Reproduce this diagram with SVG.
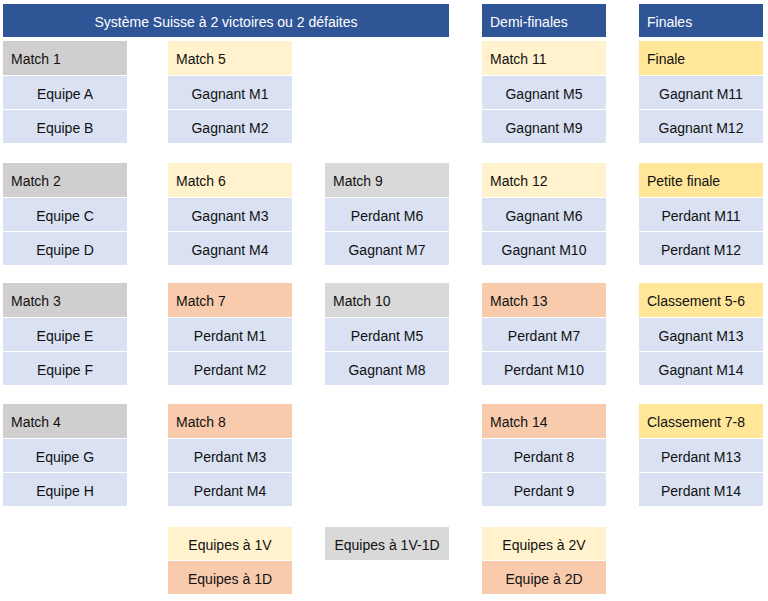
<svg xmlns="http://www.w3.org/2000/svg" width="768" height="601" viewBox="0 0 768 601">
<style>
text{font-family:"Liberation Sans",Arial,sans-serif;font-size:14px;fill:#111}
.t{fill:#2F5597}
.tt{fill:#fff}
.g1{fill:#D0CECE}
.g2{fill:#D9D9D9}
.y{fill:#FFF2CC}
.o{fill:#F8CBAD}
.gd{fill:#FFE699}
.c{fill:#D9E1F2}
.m{text-anchor:middle}
</style>
<rect width="768" height="601" fill="#fff"/>
<g id="title-main"><rect class="t" x="3" y="4" width="446" height="33"/><text class="tt m" x="226" y="26.5">Système Suisse à 2 victoires ou 2 défaites</text></g>
<g id="title-demi"><rect class="t" x="482" y="4" width="124" height="33"/><text class="tt" x="490" y="26.5">Demi-finales</text></g>
<g id="title-finales"><rect class="t" x="639" y="4" width="124" height="33"/><text class="tt" x="647" y="26.5">Finales</text></g>

<g id="match1"><rect class="g1" x="3" y="41" width="124" height="34"/><text x="11" y="64">Match 1</text>
<rect class="c" x="3" y="76" width="124" height="33"/><text class="m" x="65" y="99">Equipe A</text>
<rect class="c" x="3" y="110" width="124" height="33"/><text class="m" x="65" y="133">Equipe B</text></g>
<g id="match2"><rect class="g1" x="3" y="163" width="124" height="34"/><text x="11" y="186">Match 2</text>
<rect class="c" x="3" y="198" width="124" height="33"/><text class="m" x="65" y="221">Equipe C</text>
<rect class="c" x="3" y="232" width="124" height="33"/><text class="m" x="65" y="255">Equipe D</text></g>
<g id="match3"><rect class="g1" x="3" y="283" width="124" height="34"/><text x="11" y="306">Match 3</text>
<rect class="c" x="3" y="318" width="124" height="33"/><text class="m" x="65" y="341">Equipe E</text>
<rect class="c" x="3" y="352" width="124" height="33"/><text class="m" x="65" y="375">Equipe F</text></g>
<g id="match4"><rect class="g1" x="3" y="404" width="124" height="34"/><text x="11" y="427">Match 4</text>
<rect class="c" x="3" y="439" width="124" height="33"/><text class="m" x="65" y="462">Equipe G</text>
<rect class="c" x="3" y="473" width="124" height="33"/><text class="m" x="65" y="496">Equipe H</text></g>

<g id="match5"><rect class="y" x="168" y="41" width="124" height="34"/><text x="176" y="64">Match 5</text>
<rect class="c" x="168" y="76" width="124" height="33"/><text class="m" x="230" y="99">Gagnant M1</text>
<rect class="c" x="168" y="110" width="124" height="33"/><text class="m" x="230" y="133">Gagnant M2</text></g>
<g id="match6"><rect class="y" x="168" y="163" width="124" height="34"/><text x="176" y="186">Match 6</text>
<rect class="c" x="168" y="198" width="124" height="33"/><text class="m" x="230" y="221">Gagnant M3</text>
<rect class="c" x="168" y="232" width="124" height="33"/><text class="m" x="230" y="255">Gagnant M4</text></g>
<g id="match7"><rect class="o" x="168" y="283" width="124" height="34"/><text x="176" y="306">Match 7</text>
<rect class="c" x="168" y="318" width="124" height="33"/><text class="m" x="230" y="341">Perdant M1</text>
<rect class="c" x="168" y="352" width="124" height="33"/><text class="m" x="230" y="375">Perdant M2</text></g>
<g id="match8"><rect class="o" x="168" y="404" width="124" height="34"/><text x="176" y="427">Match 8</text>
<rect class="c" x="168" y="439" width="124" height="33"/><text class="m" x="230" y="462">Perdant M3</text>
<rect class="c" x="168" y="473" width="124" height="33"/><text class="m" x="230" y="496">Perdant M4</text></g>

<g id="match9"><rect class="g2" x="325" y="163" width="124" height="34"/><text x="333" y="186">Match 9</text>
<rect class="c" x="325" y="198" width="124" height="33"/><text class="m" x="387" y="221">Perdant M6</text>
<rect class="c" x="325" y="232" width="124" height="33"/><text class="m" x="387" y="255">Gagnant M7</text></g>
<g id="match10"><rect class="g2" x="325" y="283" width="124" height="34"/><text x="333" y="306">Match 10</text>
<rect class="c" x="325" y="318" width="124" height="33"/><text class="m" x="387" y="341">Perdant M5</text>
<rect class="c" x="325" y="352" width="124" height="33"/><text class="m" x="387" y="375">Gagnant M8</text></g>

<g id="match11"><rect class="y" x="482" y="41" width="124" height="34"/><text x="490" y="64">Match 11</text>
<rect class="c" x="482" y="76" width="124" height="33"/><text class="m" x="544" y="99">Gagnant M5</text>
<rect class="c" x="482" y="110" width="124" height="33"/><text class="m" x="544" y="133">Gagnant M9</text></g>
<g id="match12"><rect class="y" x="482" y="163" width="124" height="34"/><text x="490" y="186">Match 12</text>
<rect class="c" x="482" y="198" width="124" height="33"/><text class="m" x="544" y="221">Gagnant M6</text>
<rect class="c" x="482" y="232" width="124" height="33"/><text class="m" x="544" y="255">Gagnant M10</text></g>
<g id="match13"><rect class="o" x="482" y="283" width="124" height="34"/><text x="490" y="306">Match 13</text>
<rect class="c" x="482" y="318" width="124" height="33"/><text class="m" x="544" y="341">Perdant M7</text>
<rect class="c" x="482" y="352" width="124" height="33"/><text class="m" x="544" y="375">Perdant M10</text></g>
<g id="match14"><rect class="o" x="482" y="404" width="124" height="34"/><text x="490" y="427">Match 14</text>
<rect class="c" x="482" y="439" width="124" height="33"/><text class="m" x="544" y="462">Perdant 8</text>
<rect class="c" x="482" y="473" width="124" height="33"/><text class="m" x="544" y="496">Perdant 9</text></g>

<g id="finale"><rect class="gd" x="639" y="41" width="124" height="34"/><text x="647" y="64">Finale</text>
<rect class="c" x="639" y="76" width="124" height="33"/><text class="m" x="701" y="99">Gagnant M11</text>
<rect class="c" x="639" y="110" width="124" height="33"/><text class="m" x="701" y="133">Gagnant M12</text></g>
<g id="petite-finale"><rect class="gd" x="639" y="163" width="124" height="34"/><text x="647" y="186">Petite finale</text>
<rect class="c" x="639" y="198" width="124" height="33"/><text class="m" x="701" y="221">Perdant M11</text>
<rect class="c" x="639" y="232" width="124" height="33"/><text class="m" x="701" y="255">Perdant M12</text></g>
<g id="classement56"><rect class="gd" x="639" y="283" width="124" height="34"/><text x="647" y="306">Classement 5-6</text>
<rect class="c" x="639" y="318" width="124" height="33"/><text class="m" x="701" y="341">Gagnant M13</text>
<rect class="c" x="639" y="352" width="124" height="33"/><text class="m" x="701" y="375">Gagnant M14</text></g>
<g id="classement78"><rect class="gd" x="639" y="404" width="124" height="34"/><text x="647" y="427">Classement 7-8</text>
<rect class="c" x="639" y="439" width="124" height="33"/><text class="m" x="701" y="462">Perdant M13</text>
<rect class="c" x="639" y="473" width="124" height="33"/><text class="m" x="701" y="496">Perdant M14</text></g>

<g id="legend-1v"><rect class="y" x="168" y="527" width="124" height="33"/><text class="m" x="230" y="550">Equipes à 1V</text></g>
<g id="legend-1d"><rect class="o" x="168" y="561" width="124" height="33"/><text class="m" x="230" y="584">Equipes à 1D</text></g>
<g id="legend-1v1d"><rect class="g2" x="325" y="527" width="124" height="33"/><text class="m" x="387" y="550">Equipes à 1V-1D</text></g>
<g id="legend-2v"><rect class="y" x="482" y="527" width="124" height="33"/><text class="m" x="544" y="550">Equipes à 2V</text></g>
<g id="legend-2d"><rect class="o" x="482" y="561" width="124" height="33"/><text class="m" x="544" y="584">Equipe à 2D</text></g>
</svg>
